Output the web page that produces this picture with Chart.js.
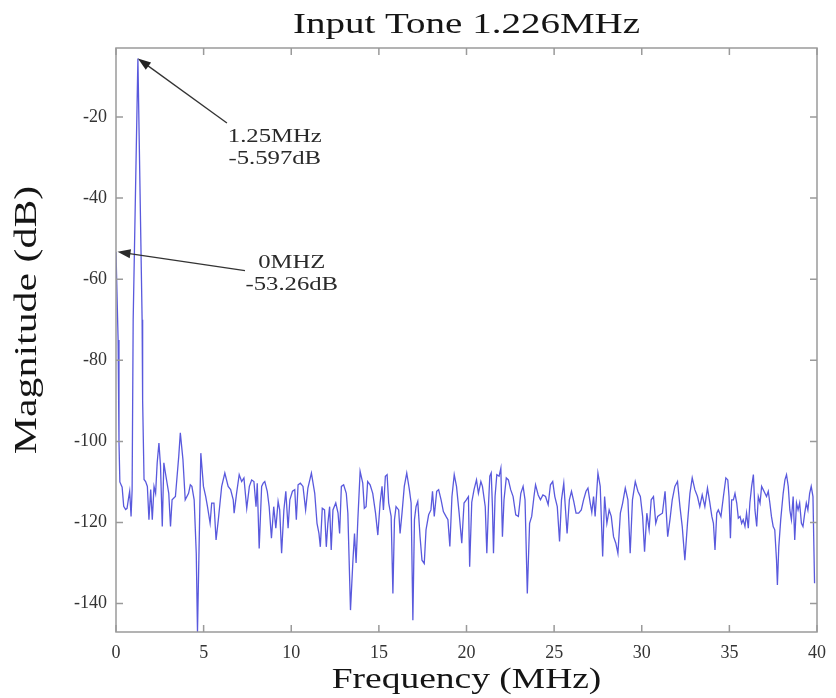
<!DOCTYPE html>
<html>
<head>
<meta charset="utf-8">
<script src="https://cdn.jsdelivr.net/npm/chart.js@4.4.0/dist/chart.umd.min.js"></script>
<style>
  html, body { margin: 0; background: #fff; }
</style>
</head>
<body>
<canvas id="fftChart" width="836" height="698"></canvas>
<script>
const ctx = document.getElementById('fftChart').getContext('2d');

// Spectrum (MHz / dB)
const freqMHz = [
  0, 0.12, 0.17, 0.22, 0.35, 0.44, 0.55, 0.63, 0.73, 0.78, 0.86, 0.92, 0.98, 1.25, 1.49, 1.52,
  1.6, 1.69, 1.79, 1.88, 1.98, 2.07, 2.17, 2.26, 2.35, 2.45, 2.54, 2.64, 2.73, 2.82, 3.01, 3.11,
  3.2, 3.39, 3.58, 3.67, 3.82, 3.95, 4.14, 4.24, 4.33, 4.46, 4.58, 4.65, 4.77, 4.84, 4.99, 5.12,
  5.22, 5.37, 5.46, 5.59, 5.71, 5.84, 6.03, 6.21, 6.4, 6.54, 6.69, 6.74, 6.88, 7.03, 7.17, 7.3,
  7.46, 7.61, 7.74, 7.87, 7.99, 8.06, 8.17, 8.31, 8.4, 8.49, 8.63, 8.74, 8.87, 9.0, 9.12, 9.25,
  9.34, 9.45, 9.58, 9.69, 9.82, 9.92, 10.07, 10.2, 10.29, 10.39, 10.52, 10.67, 10.82, 10.95, 11.15, 11.34,
  11.47, 11.58, 11.66, 11.77, 11.9, 12.0, 12.09, 12.19, 12.28, 12.38, 12.54, 12.67, 12.76, 12.86, 12.99, 13.14,
  13.23, 13.38, 13.52, 13.61, 13.7, 13.8, 13.93, 14.08, 14.17, 14.27, 14.36, 14.5, 14.65, 14.81, 14.94, 15.07,
  15.18, 15.26, 15.37, 15.47, 15.56, 15.7, 15.8, 15.89, 15.98, 16.13, 16.21, 16.32, 16.45, 16.59, 16.74, 16.84,
  16.94, 17.03, 17.12, 17.22, 17.35, 17.46, 17.59, 17.69, 17.84, 17.97, 18.06, 18.16, 18.3, 18.41, 18.55, 18.68,
  18.83, 18.94, 19.05, 19.17, 19.3, 19.43, 19.58, 19.73, 19.86, 19.99, 20.11, 20.18, 20.3, 20.43, 20.57, 20.68,
  20.82, 20.91, 21.07, 21.16, 21.26, 21.33, 21.41, 21.48, 21.54, 21.63, 21.73, 21.86, 21.96, 22.05, 22.14, 22.27,
  22.39, 22.52, 22.66, 22.81, 22.96, 23.1, 23.23, 23.34, 23.47, 23.6, 23.72, 23.85, 23.94, 24.09, 24.22, 24.36,
  24.51, 24.66, 24.79, 24.92, 25.04, 25.18, 25.31, 25.42, 25.55, 25.65, 25.74, 25.87, 25.99, 26.12, 26.25, 26.4,
  26.55, 26.68, 26.82, 26.93, 27.06, 27.15, 27.25, 27.34, 27.5, 27.63, 27.77, 27.88, 28.01, 28.14, 28.26, 28.39,
  28.52, 28.64, 28.78, 28.91, 29.06, 29.21, 29.34, 29.47, 29.63, 29.78, 29.92, 30.05, 30.16, 30.29, 30.42, 30.54,
  30.67, 30.8, 30.91, 31.04, 31.18, 31.33, 31.48, 31.61, 31.74, 31.89, 32.04, 32.18, 32.31, 32.46, 32.61, 32.75,
  32.88, 33.03, 33.18, 33.31, 33.45, 33.6, 33.75, 33.88, 34.0, 34.09, 34.18, 34.28, 34.37, 34.52, 34.66, 34.8,
  34.91, 34.98, 35.06, 35.13, 35.23, 35.32, 35.42, 35.51, 35.61, 35.7, 35.79, 35.89, 35.98, 36.08, 36.17, 36.27,
  36.37, 36.46, 36.56, 36.65, 36.75, 36.84, 36.93, 37.03, 37.12, 37.22, 37.31, 37.4, 37.5, 37.59, 37.69, 37.74,
  37.82, 37.93, 38.07, 38.17, 38.26, 38.36, 38.45, 38.54, 38.64, 38.73, 38.83, 38.92, 39.01, 39.11, 39.2, 39.3,
  39.39, 39.48, 39.58, 39.67, 39.77, 39.86
];
const magDb = [
  -53.3, -75, -100, -110, -111.3, -116, -116.8, -116.5, -113.6, -112.3, -118.5, -112, -70, -5.6, -70, -90,
  -109.4, -109.9, -111.1, -119.3, -111.9, -119.3, -111.1, -112.8, -105.3, -100.4, -106.1, -121, -105.3, -107.8, -112.8, -121,
  -114.4, -113.6, -103.7, -97.9, -104.5, -114.4, -112.8, -110.7, -111.1, -114.4, -127.6, -147, -119.3, -102.9, -111.1, -113.6,
  -116.1, -120.2, -115.2, -115.2, -124.3, -119.3, -111.1, -107.8, -111.1, -111.9, -114.4, -117.7, -112.8, -108.2, -109.9, -109,
  -116.5, -111.1, -109.5, -109.9, -116.1, -110.3, -126.4, -111.1, -110.3, -109.9, -112.3, -116.1, -123.9, -116.1, -121.4, -114.8,
  -116.9, -127.6, -116.9, -112.3, -121.4, -114.4, -112.3, -111.9, -119.3, -110.7, -110.3, -111.1, -116.9, -111.5, -107.8, -112.8,
  -120.2, -122.7, -126, -116.5, -116.9, -126, -120.2, -116.1, -126.8, -116.9, -115.2, -117.7, -122.7, -111.1, -110.7, -112.8,
  -117.7, -141.6, -129.3, -122.7, -130, -119.3, -107.4, -110.3, -116.5, -116.1, -109.9, -110.7, -112.8, -117.7, -123.1, -115.2,
  -111.1, -116.9, -108.6, -108.2, -115.2, -118.5, -137.5, -119.3, -116.1, -116.9, -122.7, -117.7, -111.1, -107.8, -111.9, -115.2,
  -144.1, -119.3, -116.1, -114.8, -123.5, -129.3, -130.1, -121.8, -118.1, -116.9, -112.3, -118.5, -112.3, -111.9, -114.4, -117.3,
  -118.5, -119.3, -125.9, -113.6, -108.2, -111.1, -117.7, -125.1, -115.2, -114.4, -113.6, -130.9, -115, -111.9, -109.5, -112.8,
  -109.9, -111.1, -116.1, -127.6, -115.2, -108.6, -107.8, -116.1, -127.6, -113.6, -108.2, -108.6, -106.6, -123.5, -114.4, -109,
  -109.5, -111.9, -113.6, -118.1, -118.5, -112.8, -111.1, -114.4, -137.5, -120.2, -118.5, -113.6, -110.7, -113.2, -114.4, -113.2,
  -113.6, -115.6, -110.7, -109.9, -113.6, -116.1, -124.7, -114.4, -110.3, -116.9, -122.7, -114.4, -112.3, -114.8, -117.7, -117.7,
  -116.9, -114.4, -112.3, -111.5, -115.2, -117.5, -113.6, -118.5, -107.8, -111.1, -128.4, -113.6, -120.2, -116.9, -118.5, -123.5,
  -125.1, -127.6, -117.7, -115.2, -111.5, -114.4, -127.6, -114.4, -109.9, -112.3, -113.6, -118.5, -127.2, -117.7, -121.8, -114.4,
  -113.6, -120.2, -118.5, -118.1, -117.7, -112.3, -123.5, -119.3, -114.4, -111.1, -109.9, -116.1, -121, -129.3, -120.2, -112.8,
  -109, -111.9, -113.6, -116.1, -113.2, -116.1, -111.5, -115, -118.5, -120.2, -126.8, -117.7, -116.9, -118.5, -113.6, -109,
  -109.5, -113.6, -123.9, -114.4, -114.4, -112.8, -115.2, -118.9, -118.5, -120.2, -119.3, -121, -117.7, -121.4, -115.2, -111.1,
  -108.2, -116.9, -121, -113.6, -115.2, -111.1, -111.9, -112.8, -113.6, -112.3, -115.2, -118.5, -121, -121.8, -129.3, -135.4,
  -126, -119.3, -112.8, -109.5, -108.2, -111.1, -116.9, -119.3, -113.6, -124.3, -115.2, -116.9, -115.2, -120.2, -121, -117.7,
  -115.2, -116.9, -112.8, -111.1, -113.6, -135
];

const xTickValues = [0, 5, 10, 15, 20, 25, 30, 35, 40];
const yTickValues = [-140, -120, -100, -80, -60, -40, -20];

// data cursors shown on the plot
const markerFreq = [1.25, 0];
const markerDb = [-5.597, -53.26];
const markerText = [['1.25MHz', '-5.597dB'], ['0MHZ', '-53.26dB']];
// where each cursor's label and arrow tail sit, in data units
const markerLabelAt = [{ x: 9.06, y: -24.9 }, { x: 10.03, y: -56 }];
const markerTailAt = [{ x: 6.33, y: -21.5 }, { x: 7.36, y: -57.9 }];

const serif = '"Liberation Serif", "DejaVu Serif", serif';

function wideText(c, str, x, y, size, sx, rot) {
  c.save();
  c.translate(x, y);
  if (rot) c.rotate(rot);
  c.scale(sx, 1);
  c.font = size + 'px ' + serif;
  c.textAlign = 'center';
  c.fillText(str, 0, 0);
  c.restore();
}

function arrow(c, x0, y0, x1, y1) {
  const ang = Math.atan2(y1 - y0, x1 - x0);
  const len = 13, half = 4.5;
  c.beginPath();
  c.moveTo(x0, y0);
  c.lineTo(x1 - Math.cos(ang) * len * 0.8, y1 - Math.sin(ang) * len * 0.8);
  c.stroke();
  c.beginPath();
  c.moveTo(x1, y1);
  c.lineTo(x1 - Math.cos(ang) * len - Math.sin(ang) * half, y1 - Math.sin(ang) * len + Math.cos(ang) * half);
  c.lineTo(x1 - Math.cos(ang) * len + Math.sin(ang) * half, y1 - Math.sin(ang) * len - Math.cos(ang) * half);
  c.closePath();
  c.fill();
}

// matlab-like box, inward ticks, titles and data cursors
const matlabFrame = {
  id: 'matlabFrame',
  afterDraw(chart) {
    const c = chart.ctx;
    const a = chart.chartArea;
    const { x, y } = chart.scales;
    c.save();
    c.strokeStyle = '#9a9a9a';
    c.lineWidth = 1.5;
    c.strokeRect(a.left, a.top, a.right - a.left, a.bottom - a.top);
    c.beginPath();
    xTickValues.forEach(v => {
      const px = x.getPixelForValue(v);
      c.moveTo(px, a.bottom); c.lineTo(px, a.bottom - 7);
      c.moveTo(px, a.top); c.lineTo(px, a.top + 7);
    });
    yTickValues.forEach(v => {
      const py = y.getPixelForValue(v);
      c.moveTo(a.left, py); c.lineTo(a.left + 7, py);
      c.moveTo(a.right, py); c.lineTo(a.right - 7, py);
    });
    c.stroke();

    const mid = (a.left + a.right) / 2;
    c.fillStyle = '#151515';
    c.textBaseline = 'alphabetic';
    wideText(c, 'Input Tone 1.226MHz', mid, 33, 30, 1.3);
    wideText(c, 'Frequency (MHz)', mid, 688, 30, 1.25);
    wideText(c, 'Magnitude (dB)', 36, 320, 31, 1.35, -Math.PI / 2);

    c.strokeStyle = '#333';
    c.fillStyle = '#222';
    c.lineWidth = 1.3;
    markerFreq.forEach((f, i) => {
      const tx = x.getPixelForValue(markerFreq[i]) + (f === 0 ? 1.5 : 0);
      const ty = y.getPixelForValue(markerDb[i]);
      arrow(c, x.getPixelForValue(markerTailAt[i].x), y.getPixelForValue(markerTailAt[i].y), tx, ty);
      const lx = x.getPixelForValue(markerLabelAt[i].x);
      const ly = y.getPixelForValue(markerLabelAt[i].y);
      c.fillStyle = '#2a2a2a';
      c.textBaseline = 'middle';
      markerText[i].forEach((t, k) => wideText(c, t, lx, ly + k * 22, 19, 1.3));
    });
    c.restore();
  }
};

const data = {
  datasets: [{
    label: 'Spectrum',
    data: freqMHz.map((f, i) => ({ x: f, y: magDb[i] })),
    borderColor: 'rgba(60, 60, 215, 0.85)',
    borderWidth: 1.3,
    pointRadius: 0,
    tension: 0,
    fill: false
  }]
};

const config = {
  type: 'line',
  data: data,
  options: {
    responsive: false,
    animation: false,
    devicePixelRatio: 1,
    layout: { padding: { top: 48, right: 15, left: 0, bottom: 0 } },
    plugins: {
      legend: { display: false },
      title: { display: false },
      tooltip: { enabled: false }
    },
    scales: {
      x: {
        type: 'linear',
        min: 0,
        max: 40,
        afterBuildTicks: s => { s.ticks = xTickValues.map(v => ({ value: v })); },
        afterFit: s => { s.height = 66; },
        grid: { display: false, drawTicks: false },
        border: { display: false },
        ticks: { color: '#333', padding: 10, maxRotation: 0, font: { family: serif, size: 18 } }
      },
      y: {
        min: -147,
        max: -3,
        afterBuildTicks: s => { s.ticks = yTickValues.map(v => ({ value: v })); },
        afterFit: s => { s.width = 116; },
        grid: { display: false, drawTicks: false },
        border: { display: false },
        ticks: { color: '#333', padding: 9, font: { family: serif, size: 18 } }
      }
    }
  },
  plugins: [matlabFrame]
};

new Chart(ctx, config);
</script>
</body>
</html>
